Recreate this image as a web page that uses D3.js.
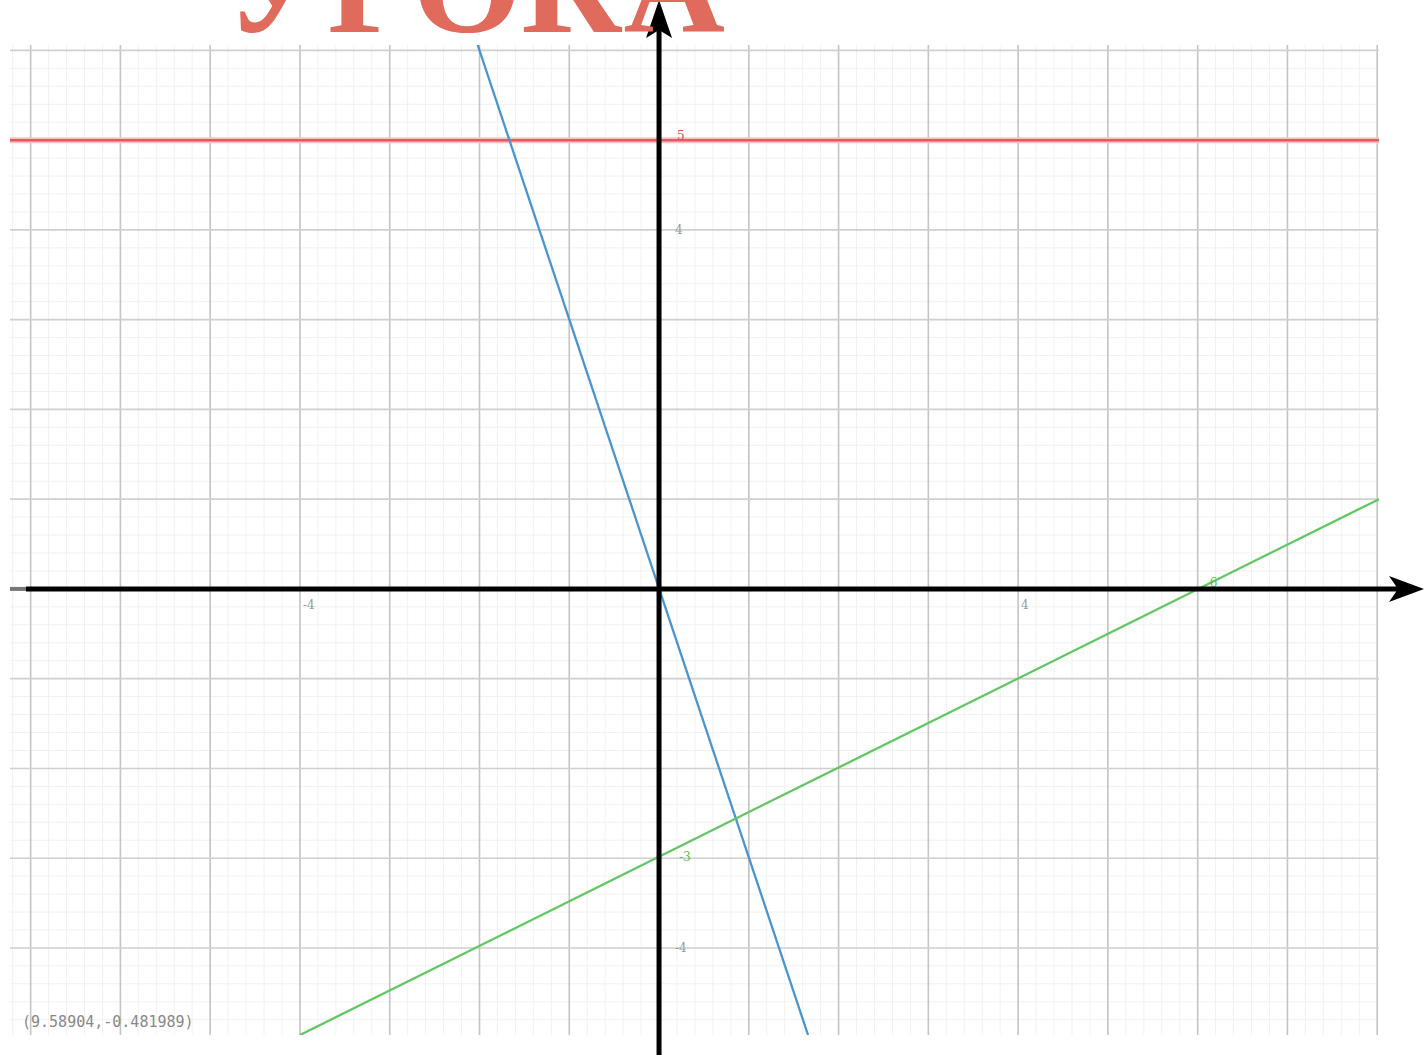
<!DOCTYPE html>
<html><head><meta charset="utf-8">
<script src="https://cdn.jsdelivr.net/npm/d3@7"></script>
<style>html,body{margin:0;padding:0;background:#fff;overflow:hidden}</style>
</head><body>
<script>
const titleText = "УРОКА";
const xDomain = [-7.23, 8.02];
const yDomain = [6.06, -4.97];
const xMajor = d3.range(-7, 9, 1);
const yMajor = d3.range(-4, 7, 1);
const minorStep = 0.2;
const xTickLabels = [{v:-4, t:"-4"}, {v:4, t:"4"}];
const yTickLabels = [{v:4, t:"4"}, {v:-4, t:"-4"}];
const redLine = [[-7.23, 5], [8.02, 5]];
const blueLine = [[-2.02, 6.06], [1.66, -4.97]];
const greenLine = [[-4.0, -4.97], [8.02, 1.0]];
const colorLabels = [
  {x:0, y:5, t:"5", c:"#e0474c", dx:18, dy:-4},
  {x:0, y:-3, t:"-3", c:"#55c055", dx:20, dy:-1},
  {x:6, y:0, t:"6", c:"#55c055", dx:12, dy:-6}
];
const coordText = "(9.58904,-0.481989)";

const W = 1424, H = 1055;
const svg = d3.select("body").append("svg").attr("width", W).attr("height", H);
const x = d3.scaleLinear().domain(xDomain).range([10, 1379]);
const y = d3.scaleLinear().domain(yDomain).range([45, 1035]);
const x0 = x(0), y0 = y(0);

// minor grid
const g = svg.append("g");
const xMinor = d3.range(Math.ceil(xDomain[0]/minorStep)*minorStep, xDomain[1], minorStep);
const yMinor = d3.range(Math.ceil(yDomain[1]/minorStep)*minorStep, yDomain[0], minorStep);
g.selectAll(".mx").data(xMinor).join("line")
  .attr("x1", d=>x(d)).attr("x2", d=>x(d)).attr("y1", 45).attr("y2", 1035)
  .attr("stroke", "#f1f1f1").attr("stroke-width", 1);
g.selectAll(".my").data(yMinor).join("line")
  .attr("y1", d=>y(d)).attr("y2", d=>y(d)).attr("x1", 10).attr("x2", 1379)
  .attr("stroke", "#f1f1f1").attr("stroke-width", 1);
// major grid
g.selectAll(".Mx").data(xMajor).join("line")
  .attr("x1", d=>x(d)).attr("x2", d=>x(d)).attr("y1", 45).attr("y2", 1035)
  .attr("stroke", "#c4c4c4").attr("stroke-width", 1.6);
g.selectAll(".My").data(yMajor).join("line")
  .attr("y1", d=>y(d)).attr("y2", d=>y(d)).attr("x1", 10).attr("x2", 1379)
  .attr("stroke", "#d0d0d0").attr("stroke-width", 1.6);

// tick labels
svg.selectAll(".xl").data(xTickLabels).join("text")
  .attr("x", d=>x(d.v)+3).attr("y", y0+20).text(d=>d.t)
  .attr("font-family", "DejaVu Serif").attr("font-size", 12).attr("fill", "#999");
svg.selectAll(".yl").data(yTickLabels).join("text")
  .attr("x", x0+16).attr("y", d=>y(d.v)+4).text(d=>d.t)
  .attr("font-family", "DejaVu Serif").attr("font-size", 12).attr("fill", "#999");

// clip to plot
svg.append("clipPath").attr("id","clip").append("rect")
  .attr("x",10).attr("y",45).attr("width",1369).attr("height",990);
const line = d3.line().x(d=>x(d[0])).y(d=>y(d[1]));
const lg = svg.append("g").attr("clip-path","url(#clip)");
lg.append("path").datum(redLine).attr("d", line).attr("stroke","#f7c4c4").attr("stroke-width",6).attr("fill","none");
lg.append("path").datum(redLine).attr("d", line).attr("stroke","#e05a60").attr("stroke-width",2.5).attr("fill","none");
lg.append("path").datum(blueLine).attr("d", line).attr("stroke","#4a95cf").attr("stroke-width",2.3).attr("fill","none");
lg.append("path").datum(greenLine).attr("d", line).attr("stroke","#63c663").attr("stroke-width",2.3).attr("fill","none");

svg.selectAll(".cl").data(colorLabels).join("text")
  .attr("x", d=>x(d.x)+d.dx).attr("y", d=>y(d.y)+d.dy+4).text(d=>d.t)
  .attr("font-family", "DejaVu Serif").attr("font-size", 12).attr("fill", d=>d.c);

// axes
svg.append("line").attr("x1",10).attr("x2",26).attr("y1",y0).attr("y2",y0).attr("stroke","#777").attr("stroke-width",4);
svg.append("line").attr("x1",26).attr("x2",1405).attr("y1",y0).attr("y2",y0).attr("stroke","#000").attr("stroke-width",5);
svg.append("line").attr("x1",x0).attr("x2",x0).attr("y1",20).attr("y2",H).attr("stroke","#000").attr("stroke-width",5);
svg.append("path").attr("d",`M${W},${y0} L${W-35},${y0-13} L${W-26},${y0} L${W-35},${y0+13} Z`).attr("fill","#000");
svg.append("path").attr("d",`M${x0},0 L${x0-13},38 L${x0},30 L${x0+13},38 Z`).attr("fill","#000");

// title (cropped at top, as in the reference)
svg.append("text").attr("x", 224).attr("y", 32).text(titleText)
  .attr("font-family","Liberation Serif").attr("font-weight","bold").attr("font-size",136)
  .attr("fill","#e06a5c").attr("textLength", 501).attr("lengthAdjust","spacingAndGlyphs");

// coordinate readout
svg.append("text").attr("x", 22).attr("y", 1027).text(coordText)
  .attr("font-family","DejaVu Sans Mono").attr("font-size", 15).attr("fill","#888");
</script>
</body></html>
